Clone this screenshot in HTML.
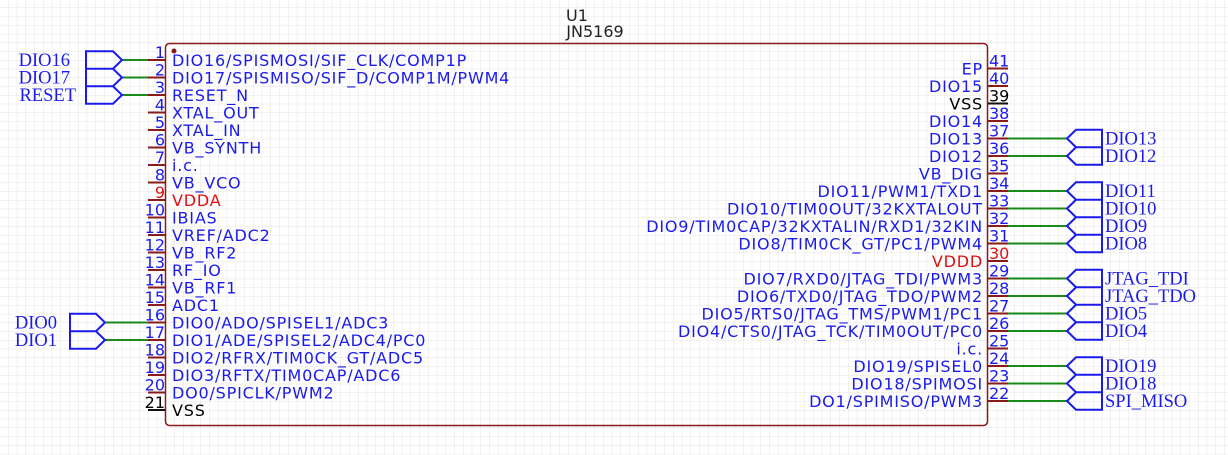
<!DOCTYPE html>
<html><head><meta charset="utf-8"><style>
html,body{margin:0;padding:0;background:#fff}
svg{display:block}
.l{font-family:"DejaVu Sans","Liberation Sans",sans-serif;font-size:16px;letter-spacing:0.8px;fill:#1a1aee}
.n{font-family:"DejaVu Sans","Liberation Sans",sans-serif;font-size:16px;fill:#1a1aee}
.r{fill:#e01010}.k{fill:#000}
.net{font-family:"Liberation Serif",serif;font-size:18.5px;fill:#1a1aee}
.e{text-anchor:end}
</style></head><body>
<svg width="1228" height="455" viewBox="0 0 1228 455" xmlns="http://www.w3.org/2000/svg">
<defs><pattern id="g" x="8" y="7.5" width="8.75" height="8.75" patternUnits="userSpaceOnUse"><path d="M0 0H8.75M0 0V8.75" stroke="#e6e6e6" stroke-width="1" fill="none"/></pattern></defs>
<rect width="1228" height="455" fill="url(#g)"/>
<text x="577" y="21" class="n" style="text-anchor:middle;fill:#222">U1</text>
<text x="595" y="37" class="n" style="text-anchor:middle;fill:#222">JN5169</text>
<rect x="165.5" y="43.5" width="822" height="382" rx="4" fill="none" stroke="#8b1a1a" stroke-width="1.5"/>
<circle cx="174" cy="51" r="2.5" fill="#8b1a1a"/>
<g stroke="#8b1a1a" stroke-width="2">
<path d="M148 60H165M148 77.5H165M148 95H165M148 112.5H165M148 130H165M148 147.5H165M148 165H165M148 182.5H165M148 200H165M148 217.5H165M148 235H165M148 252.5H165M148 270H165M148 287.5H165M148 305H165M148 322.5H165M148 340H165M148 357.5H165M148 375H165M148 392.5H165"/>
<path d="M988 68.5H1008M988 86H1008M988 121H1008M988 138.5H1008M988 156H1008M988 173.5H1008M988 191H1008M988 208.5H1008M988 226H1008M988 243.5H1008M988 261H1008M988 278.5H1008M988 296H1008M988 313.5H1008M988 331H1008M988 348.5H1008M988 366H1008M988 383.5H1008M988 401H1008"/>
</g>
<path d="M148 410H165M988 103.5H1008" stroke="#111" stroke-width="2"/>
<g stroke="#1a8a1a" stroke-width="2">
<path d="M122 60H148M122 77.5H148M122 95H148M105 322.5H148M105 340H148"/>
<path d="M1008 138.5H1067M1008 156H1067M1008 191H1067M1008 208.5H1067M1008 226H1067M1008 243.5H1067M1008 278.5H1067M1008 296H1067M1008 313.5H1067M1008 331H1067M1008 366H1067M1008 383.5H1067M1008 401H1067"/>
</g>
<g fill="none" stroke="#1a1aee" stroke-width="2">
<path d="M86 51.25H113L122 60L113 68.75H86ZM86 68.75H113L122 77.5L113 86.25H86ZM86 86.25H113L122 95L113 103.75H86Z"/>
<path d="M70 313.75H96L105 322.5L96 331.25H70ZM70 331.25H96L105 340L96 348.75H70Z"/>
<path d="M1067 138.5L1076 129.75H1102V147.25H1076ZM1067 156L1076 147.25H1102V164.75H1076Z"/>
<path d="M1067 191L1076 182.25H1102V199.75H1076ZM1067 208.5L1076 199.75H1102V217.25H1076ZM1067 226L1076 217.25H1102V234.75H1076ZM1067 243.5L1076 234.75H1102V252.25H1076Z"/>
<path d="M1067 278.5L1076 269.75H1102V287.25H1076ZM1067 296L1076 287.25H1102V304.75H1076ZM1067 313.5L1076 304.75H1102V322.25H1076ZM1067 331L1076 322.25H1102V339.75H1076Z"/>
<path d="M1067 366L1076 357.25H1102V374.75H1076ZM1067 383.5L1076 374.75H1102V392.25H1076ZM1067 401L1076 392.25H1102V409.75H1076Z"/>
</g>
<g class="net">
<text x="70" y="66" class="e">DIO16</text>
<text x="70" y="83.5" class="e">DIO17</text>
<text x="76" y="101" class="e">RESET</text>
<text x="57" y="328.5" class="e">DIO0</text>
<text x="57" y="346" class="e">DIO1</text>
<text x="1105" y="144.5">DIO13</text>
<text x="1105" y="162">DIO12</text>
<text x="1105" y="197">DIO11</text>
<text x="1105" y="214.5">DIO10</text>
<text x="1105" y="232">DIO9</text>
<text x="1105" y="249.5">DIO8</text>
<text x="1105" y="284.5">JTAG_TDI</text>
<text x="1105" y="302">JTAG_TDO</text>
<text x="1105" y="319.5">DIO5</text>
<text x="1105" y="337">DIO4</text>
<text x="1105" y="372">DIO19</text>
<text x="1105" y="389.5">DIO18</text>
<text x="1105" y="407">SPI_MISO</text>
</g>
<g class="n e">
<text x="165" y="58">1</text><text x="165" y="75.5">2</text><text x="165" y="93">3</text><text x="165" y="110.5">4</text><text x="165" y="128">5</text><text x="165" y="145.5">6</text><text x="165" y="163">7</text><text x="165" y="180.5">8</text><text x="165" y="198" class="r">9</text><text x="165" y="215.5">10</text><text x="165" y="233">11</text><text x="165" y="250.5">12</text><text x="165" y="268">13</text><text x="165" y="285.5">14</text><text x="165" y="303">15</text><text x="165" y="320.5">16</text><text x="165" y="338">17</text><text x="165" y="355.5">18</text><text x="165" y="373">19</text><text x="165" y="390.5">20</text><text x="165" y="408" class="k">21</text>
</g>
<g class="l">
<text x="172" y="66">DIO16/SPISMOSI/SIF_CLK/COMP1P</text>
<text x="172" y="83.5">DIO17/SPISMISO/SIF_D/COMP1M/PWM4</text>
<text x="172" y="101">RESET_N</text>
<text x="172" y="118.5">XTAL_OUT</text>
<text x="172" y="136">XTAL_IN</text>
<text x="172" y="153.5">VB_SYNTH</text>
<text x="172" y="171">i.c.</text>
<text x="172" y="188.5">VB_VCO</text>
<text x="172" y="206" class="r">VDDA</text>
<text x="172" y="223.5">IBIAS</text>
<text x="172" y="241">VREF/ADC2</text>
<text x="172" y="258.5">VB_RF2</text>
<text x="172" y="276">RF_IO</text>
<text x="172" y="293.5">VB_RF1</text>
<text x="172" y="311">ADC1</text>
<text x="172" y="328.5">DIO0/ADO/SPISEL1/ADC3</text>
<text x="172" y="346">DIO1/ADE/SPISEL2/ADC4/PC0</text>
<text x="172" y="363.5">DIO2/RFRX/TIM0CK_GT/ADC5</text>
<text x="172" y="381">DIO3/RFTX/TIM0CAP/ADC6</text>
<text x="172" y="398.5">DO0/SPICLK/PWM2</text>
<text x="172" y="416" class="k">VSS</text>
</g>
<g class="n">
<text x="989" y="66.5">41</text><text x="989" y="84">40</text><text x="989" y="101.5" class="k">39</text><text x="989" y="119">38</text><text x="989" y="136.5">37</text><text x="989" y="154">36</text><text x="989" y="171.5">35</text><text x="989" y="189">34</text><text x="989" y="206.5">33</text><text x="989" y="224">32</text><text x="989" y="241.5">31</text><text x="989" y="259" class="r">30</text><text x="989" y="276.5">29</text><text x="989" y="294">28</text><text x="989" y="311.5">27</text><text x="989" y="329">26</text><text x="989" y="346.5">25</text><text x="989" y="364">24</text><text x="989" y="381.5">23</text><text x="989" y="399">22</text>
</g>
<g class="l e">
<text x="983" y="74.5">EP</text>
<text x="983" y="92">DIO15</text>
<text x="983" y="109.5" class="k">VSS</text>
<text x="983" y="127">DIO14</text>
<text x="983" y="144.5">DIO13</text>
<text x="983" y="162">DIO12</text>
<text x="983" y="179.5">VB_DIG</text>
<text x="983" y="197">DIO11/PWM1/TXD1</text>
<text x="983" y="214.5">DIO10/TIM0OUT/32KXTALOUT</text>
<text x="983" y="232">DIO9/TIM0CAP/32KXTALIN/RXD1/32KIN</text>
<text x="983" y="249.5">DIO8/TIM0CK_GT/PC1/PWM4</text>
<text x="983" y="267" class="r">VDDD</text>
<text x="983" y="284.5">DIO7/RXD0/JTAG_TDI/PWM3</text>
<text x="983" y="302">DIO6/TXD0/JTAG_TDO/PWM2</text>
<text x="983" y="319.5">DIO5/RTS0/JTAG_TMS/PWM1/PC1</text>
<text x="983" y="337">DIO4/CTS0/JTAG_TCK/TIM0OUT/PC0</text>
<text x="983" y="354.5">i.c.</text>
<text x="983" y="372">DIO19/SPISEL0</text>
<text x="983" y="389.5">DIO18/SPIMOSI</text>
<text x="983" y="407">DO1/SPIMISO/PWM3</text>
</g>
</svg>
</body></html>
